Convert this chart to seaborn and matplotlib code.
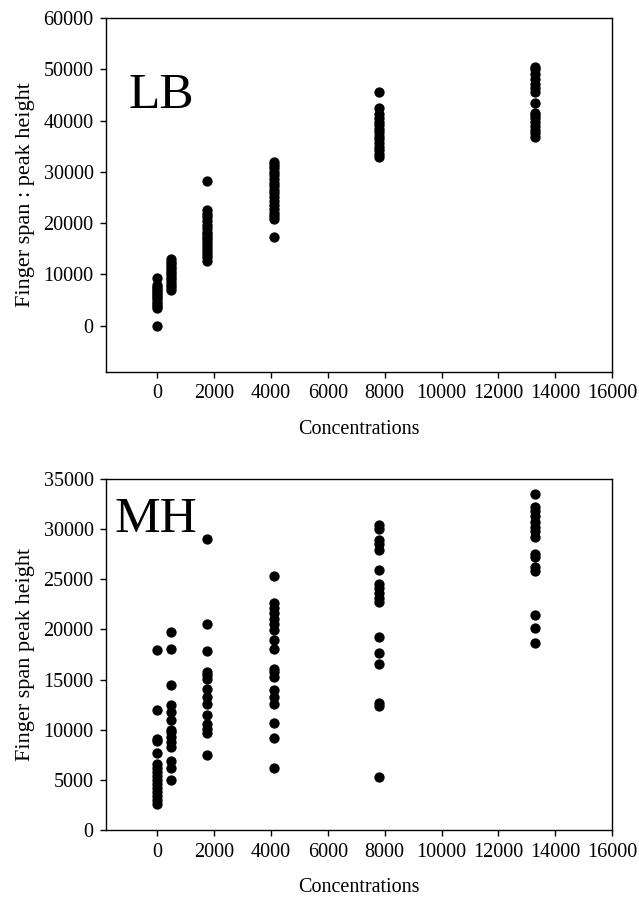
import numpy as np
import pandas as pd
import seaborn as sns
import matplotlib.pyplot as plt

# concentrations of each group (x positions)
conc = [0, 500, 1750, 4100, 7800, 13300]

# LB panel: peak height values per concentration
lb_0 = [0, 3500, 3900, 4300, 4700, 5100, 5500, 5900, 6300, 6700, 7100, 7500, 8000, 9300]
lb_500 = [7000, 7500, 8000, 8500, 9000, 9500, 10000, 10500, 11000, 11500, 12000, 12500, 13000]
lb_1750 = [12700, 13300, 14000, 14600, 15200, 15800, 16300, 16800, 17300, 17800, 18300,
           19000, 19700, 20400, 21100, 21800, 22500, 28300]
lb_4100 = [17200, 20700, 21300, 22000, 22700, 23500, 24300, 25000, 25800, 26500, 27200,
           27900, 28600, 29300, 30000, 30700, 31300, 32000]
lb_7800 = [32900, 33500, 34200, 34900, 35600, 36300, 37000, 37700, 38400, 39100, 39800,
           40500, 41200, 42400, 45600]
lb_13300 = [36800, 37500, 38200, 39000, 39700, 40400, 41000, 41500, 43500, 45600, 46400,
            47200, 48000, 49000, 50000, 50500]

# MH panel
mh_0 = [2600, 3000, 3400, 3800, 4200, 4600, 5000, 5400, 5800, 6200, 6600, 7700, 8900,
        9100, 12000, 17900]
mh_500 = [5000, 6200, 6900, 8300, 8800, 9300, 9800, 10000, 11000, 11800, 12500, 14500,
          18000, 19700]
mh_1750 = [7500, 9700, 10100, 10600, 11500, 12600, 13300, 14100, 15100, 15500, 15800,
           17800, 20500, 29000]
mh_4100 = [6200, 9200, 10700, 12600, 13300, 14000, 15300, 15800, 16100, 18000, 18900,
           19900, 20500, 21000, 21600, 22100, 22600, 25300]
mh_7800 = [5300, 12400, 12700, 16500, 17600, 19200, 22700, 23100, 23600, 24100, 24500,
           25900, 27900, 28500, 28900, 30000, 30400]
mh_13300 = [18600, 20100, 21400, 25800, 26200, 27200, 27500, 29200, 29800, 30200, 30700,
            31300, 31800, 32200, 33500]


def build(groups):
    rows = []
    for c, vals in zip(conc, groups):
        for v in vals:
            rows.append((c, v))
    return pd.DataFrame(rows, columns=["conc", "value"])


lb = build([lb_0, lb_500, lb_1750, lb_4100, lb_7800, lb_13300])
mh = build([mh_0, mh_500, mh_1750, mh_4100, mh_7800, mh_13300])

sns.set_style("ticks")
plt.rcParams['font.family'] = ['Liberation Serif', 'DejaVu Serif']
plt.rcParams['axes.linewidth'] = 1.0
plt.rcParams['text.color'] = 'black'
plt.rcParams['axes.labelcolor'] = 'black'

fig = plt.figure(figsize=(6.39, 8.98), dpi=100)
ax1 = fig.add_axes([0.166, 0.586, 0.792, 0.394])
ax2 = fig.add_axes([0.166, 0.0757, 0.792, 0.391])

panels = [
    (ax1, lb, (-9000, 60000), np.arange(0, 60001, 10000), "Finger span : peak height",
     "LB", (0.045, 0.845)),
    (ax2, mh, (0, 35000), np.arange(0, 35001, 5000), "Finger span peak height",
     "MH", (0.016, 0.95)),
]

for ax, df, ylim, yticks, ylab, tag, tagpos in panels:
    sns.scatterplot(data=df, x="conc", y="value", ax=ax, color="black", s=55,
                    edgecolor="black", linewidth=0)
    ax.set_xlim(-1800, 16000)
    ax.set_ylim(*ylim)
    ax.set_xticks(np.arange(0, 16001, 2000))
    ax.set_yticks(yticks)
    ax.tick_params(direction="out", length=4, width=1, colors="black", labelsize=14.5, pad=5)
    for sp in ax.spines.values():
        sp.set_color("black")
        sp.set_visible(True)
    ax.set_xlabel("Concentrations", fontsize=14.5, labelpad=12)
    ax.set_ylabel(ylab, fontsize=16, labelpad=6)
    ax.text(tagpos[0], tagpos[1], tag, transform=ax.transAxes, fontsize=37,
            va="top", ha="left", color="black")

fig.savefig("out.png", dpi=100)
